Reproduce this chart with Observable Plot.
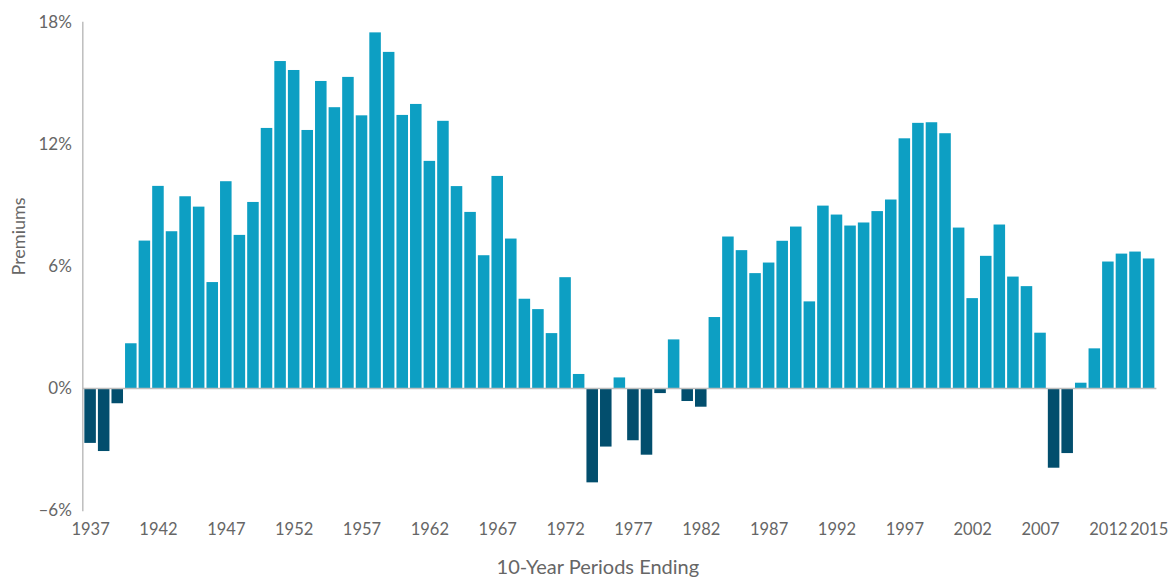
<!DOCTYPE html>
<html>
<head>
<meta charset="utf-8">
<script src="https://cdn.jsdelivr.net/npm/d3@7"></script>
<script src="https://cdn.jsdelivr.net/npm/@observablehq/plot@0.6"></script>
<style>
  html, body { margin: 0; padding: 0; background: #fff; }
</style>
</head>
<body>
<div id="chart"></div>
<script>
const years = d3.range(1937, 2016);
const premiums = [
  -2.7, -3.1, -0.75, 2.2, 7.25, 9.94, 7.71, 9.43, 8.92, 5.21,
  10.17, 7.53, 9.15, 12.79, 16.08, 15.64, 12.69, 15.1, 13.81, 15.3,
  13.41, 17.49, 16.53, 13.43, 13.97, 11.17, 13.14, 9.93, 8.66, 6.53,
  10.43, 7.35, 4.39, 3.88, 2.70, 5.45, 0.69, -4.64, -2.88, 0.52,
  -2.57, -3.28, -0.25, 2.39, -0.64, -0.92, 3.49, 7.45, 6.78, 5.65,
  6.17, 7.24, 7.94, 4.26, 8.97, 8.53, 7.99, 8.14, 8.70, 9.27,
  12.28, 13.04, 13.07, 12.53, 7.89, 4.42, 6.50, 8.04, 5.48, 5.01,
  2.72, -3.92, -3.20, 0.26, 1.95, 6.22, 6.61, 6.71, 6.37
];
const xTicks = [1937, 1942, 1947, 1952, 1957, 1962, 1967, 1972, 1977, 1982, 1987, 1992, 1997, 2002, 2007, 2012, 2015];
const yTicks = [-6, 0, 6, 12, 18];
const yLabel = "Premiums";
const xLabel = "10-Year Periods Ending";

const data = years.map((y, i) => ({year: y, value: premiums[i]}));

const chart = Plot.plot({
  width: 1172,
  height: 585,
  marginLeft: 82.3,
  marginRight: 15.6,
  marginTop: 22,
  marginBottom: 75,
  style: {fontFamily: "Lato, 'Open Sans', sans-serif", color: "#666", background: "#fff"},
  x: {type: "band", domain: years, padding: 0.15},
  y: {domain: [-6, 18]},
  marks: [
    Plot.barY(data, {
      x: "year", y: "value",
      fill: d => d.value < 0 ? "#024e6d" : "#0d9fc3"
    }),
    Plot.ruleY([0], {stroke: "#bdbdbd", strokeWidth: 1.5}),
    Plot.frame({anchor: "left", stroke: "#bdbdbd", strokeWidth: 1.5}),
    Plot.axisY({ticks: yTicks, tickSize: 0, tickPadding: 11, label: null, fontSize: 17,
      tickFormat: d => (d < 0 ? "\u2013" + Math.abs(d) : String(d)) + "%"}),
    Plot.axisX({ticks: xTicks, tickSize: 0, tickPadding: 13, label: null, fontSize: 16.5,
      tickFormat: d => String(d)}),
    Plot.text([yLabel], {frameAnchor: "left", rotate: -90, dx: -64, dy: 9, fontSize: 18, fill: "#666"}),
    Plot.text([xLabel], {frameAnchor: "bottom", dx: -22, dy: 63, fontSize: 20, fill: "#666"})
  ]
});
document.getElementById("chart").appendChild(chart);
</script>
</body>
</html>
